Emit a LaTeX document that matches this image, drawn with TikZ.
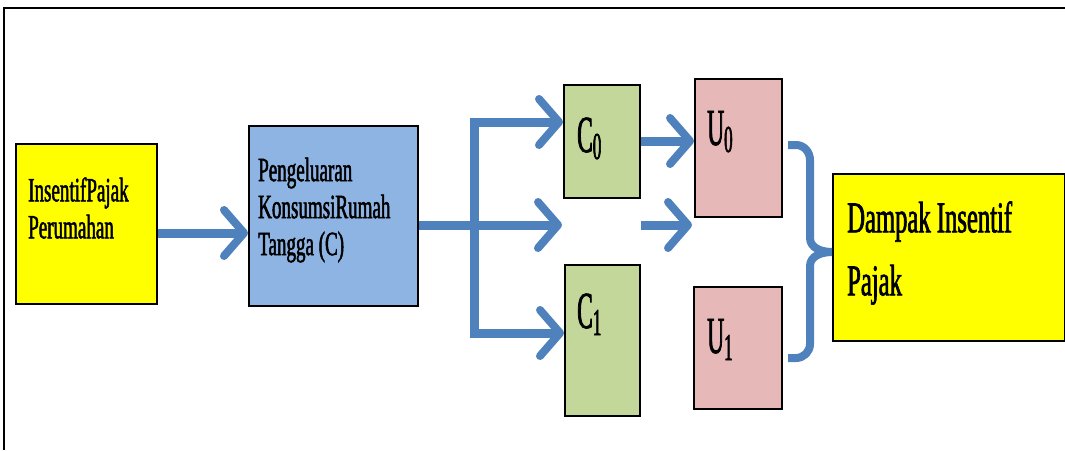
\documentclass[tikz,border=0pt]{standalone}
\usepackage{fontspec}
\newfontfamily\lf[FakeStretch=0.56,FakeBold=1.5]{Liberation Serif}
\newfontfamily\symf[FakeStretch=0.45,FakeBold=1.5]{Liberation Serif}
\usetikzlibrary{arrows.meta}
\definecolor{arrowblue}{HTML}{4F81BD}
\definecolor{boxyellow}{HTML}{FFFF00}
\definecolor{boxblue}{HTML}{8DB4E2}
\definecolor{boxgreen}{HTML}{C4D79B}
\definecolor{boxpink}{HTML}{E6B8B7}
\begin{document}
\begin{tikzpicture}[x=1pt,y=-1pt,
  box/.style={draw=black, line width=1.8pt, inner sep=0pt, anchor=north west},
  lbl/.style={anchor=west, inner sep=0pt, align=left},
  sym/.style={anchor=base west, inner sep=0pt, font=\symf\fontsize{52}{52}\selectfont},
  flow/.style={draw=arrowblue, line width=9pt},
  head/.style={-{Straight Barb[length=20pt,width=46pt,line width=8pt,round]}}
]
\useasboundingbox (0,0) rectangle (1065,450);
% frame
\draw[line width=2.5pt] (4,450) -- (4,8) -- (1065,8);

% boxes
\node[box, fill=boxyellow, minimum width=141pt, minimum height=160pt] (A) at (15,143) {};
\node[box, fill=boxblue, minimum width=169pt, minimum height=180pt] (B) at (248,125) {};
\node[box, fill=boxgreen, minimum width=76pt, minimum height=113pt] (C0) at (563,84) {};
\node[box, fill=boxgreen, minimum width=75pt, minimum height=151pt] (C1) at (564,264) {};
\node[box, fill=boxpink, minimum width=87pt, minimum height=138pt] (U0) at (694,78) {};
\node[box, fill=boxpink, minimum width=88pt, minimum height=122pt] (U1) at (693,286) {};
\node[box, fill=boxyellow, minimum width=232pt, minimum height=167pt] (D) at (832,173) {};

% labels
\node[lbl, font=\lf\fontsize{34}{37}\selectfont] (At) at (28,208) {InsentifPajak\\Perumahan};
\node[lbl, font=\lf\fontsize{34}{37}\selectfont] (Bt) at (258,210) {Pengeluaran\\KonsumsiRumah\\Tangga (C)};
\node[lbl, font=\lf\fontsize{44}{63}\selectfont] (Dt) at (847,253) {Dampak Insentif\\Pajak};
\node[sym] (C0t) at (577,152) {C\raisebox{-7pt}{\fontsize{38}{38}\selectfont 0}};
\node[sym] (C1t) at (577,328) {C\raisebox{-7pt}{\fontsize{38}{38}\selectfont 1}};
\node[sym] (U0t) at (707,145) {U\raisebox{-7pt}{\fontsize{38}{38}\selectfont 0}};
\node[sym] (U1t) at (707,353) {U\raisebox{-7pt}{\fontsize{38}{38}\selectfont 1}};

% connector coordinates
\coordinate (a1) at (0,233);
\coordinate (split) at (474,225);
\coordinate (t) at (0,122);
\coordinate (b) at (0,333);
\coordinate (m1) at (562,225);
\coordinate (m2) at (692,225);
\coordinate (c) at (0,141);
\coordinate (br1) at (788,145);
\coordinate (br2) at (788,358);
\coordinate (tip) at (0,252);

% arrows
\draw[flow, head] (A.east |- a1) -- (B.west |- a1);
\draw[flow] (B.east |- split) -- (split);
\draw[flow, head] (split) |- (C0.west |- t);
\draw[flow, head] (split) |- (C1.west |- b);
\draw[flow, head] (split) -- (m1);
\draw[flow, head] (C0.east |- m1) -- (m2);
\draw[flow, head] (C0.east |- c) -- (U0.west |- c);

% brace
\draw[flow, line width=8pt, line join=round]
  (br1) -- (796,145) to[out=0,in=90] (810,160) -- (810,238)
  to[out=-90,in=180] (D.west |- tip)
  (D.west |- tip) to[out=180,in=90] (810,266) -- (810,344)
  to[out=-90,in=0] (796,358) -- (br2);
\end{tikzpicture}
\end{document}
